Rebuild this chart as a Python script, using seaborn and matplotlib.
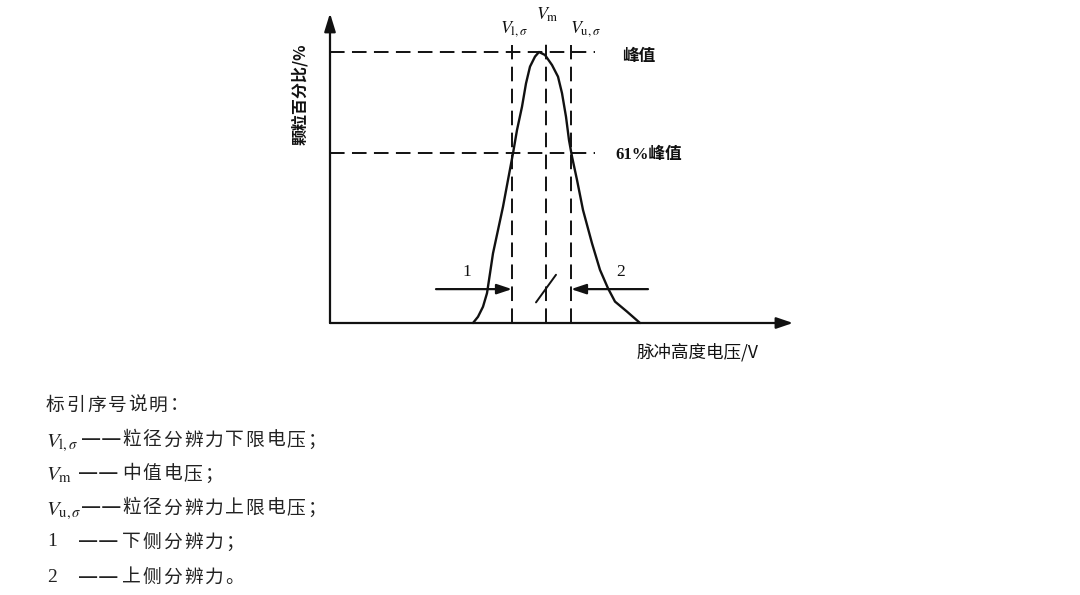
import matplotlib
matplotlib.use("Agg")
import matplotlib.pyplot as plt
import seaborn as sns
import pandas as pd

# ---------------- data ----------------
voltage = [14.3, 14.8, 15.3, 15.7, 16.0, 16.3, 16.8, 17.3, 17.8, 18.3, 18.7, 19.2, 19.6, 20.0, 20.5, 20.9,
           21.5, 22.2, 22.8, 23.2, 23.6, 23.9, 24.2, 24.7, 25.3, 26.2, 27.0, 27.8, 28.5, 29.7, 31.0]
percent = [0.0, 2.3, 6.0, 11.0, 18.3, 25.7, 34.3, 42.9, 52.8, 62.6, 71.2, 79.8, 88.4, 94.6, 98.3, 100.0,
           98.9, 95.2, 90.9, 84.8, 76.1, 67.5, 61.4, 52.8, 41.7, 29.4, 19.6, 12.8, 7.9, 4.2, 0.0]

level_names = ["峰值", "61%峰值"]
level_values = [100.0, 62.7]
level_line_end = 26.5

v_names = [r"$V_{\mathrm{l},\sigma}$", r"$V_{\mathrm{m}}$", r"$V_{\mathrm{u},\sigma}$"]
v_values = [18.2, 21.6, 24.1]
v_tops = [102.6, 105.2, 102.6]

resolution_y = 12.5
resolution_starts = [10.6, 31.8]
resolution_ends = [18.2, 24.1]
slash_x = [20.6, 22.6]
slash_y = [7.6, 17.8]

x_axis_end = 46.3
y_axis_end = 114.3

x_label = "脉冲高度电压/V"
y_label = "颗粒百分比/%"

legend_title = "标引序号说明："
legend_keys = [r"$V_{\mathrm{l},\sigma}$", r"$V_{\mathrm{m}}$", r"$V_{\mathrm{u},\sigma}$", "1", "2"]
legend_texts = ["粒径分辨力下限电压；", "中值电压；", "粒径分辨力上限电压；",
                "下侧分辨力；", "上侧分辨力。"]
legend_dash = "——"

# ---------------- figure ----------------
sns.set_theme(style="white")
plt.rcParams["font.family"] = ["Noto Sans CJK SC", "DejaVu Sans"]
plt.rcParams["mathtext.fontset"] = "stix"

W, H = 1080, 595
fig = plt.figure(figsize=(W / 100, H / 100), dpi=100)
ax = fig.add_axes([0, 0, 1, 1])
XLIM = (-33.0, (W - 330) / 10)
YLIM = ((323 - H) / 2.71, 323 / 2.71)


def fx(px):
    return px / W


def fy(py):
    return 1 - py / H


ink = "#111111"
grey = "#222222"

# dashed reference lines
dash = (0, (7.5, 3.8))
for lv in level_values:
    ax.plot([0, level_line_end], [lv, lv], color=ink, lw=1.4, linestyle=dash)
for v, top in zip(v_values, v_tops):
    ax.plot([v, v], [0, top], color=ink, lw=1.4, linestyle=dash)

# distribution curve
df = pd.DataFrame({"voltage": voltage, "percent": percent})
sns.lineplot(data=df, x="voltage", y="percent", sort=False, color=ink, lw=1.7, ax=ax, legend=False)
ax.set_xlim(*XLIM)
ax.set_ylim(*YLIM)
ax.axis("off")

# axes with arrows
ax.annotate("", xy=(x_axis_end, 0), xytext=(0, 0),
            arrowprops=dict(arrowstyle="-|>,head_length=0.5,head_width=0.17", mutation_scale=20,
                            lw=1.6, color=ink, shrinkA=0, shrinkB=0))
ax.annotate("", xy=(0, y_axis_end), xytext=(0, 0),
            arrowprops=dict(arrowstyle="-|>,head_length=0.55,head_width=0.17", mutation_scale=20,
                            lw=1.6, color=ink, shrinkA=0, shrinkB=0))

# resolution arrows
for s, e in zip(resolution_starts, resolution_ends):
    ax.annotate("", xy=(e, resolution_y), xytext=(s, resolution_y),
                arrowprops=dict(arrowstyle="-|>,head_length=0.45,head_width=0.15", mutation_scale=20,
                                lw=1.6, color=ink, shrinkA=0, shrinkB=0))
ax.plot(slash_x, slash_y, color=ink, lw=1.4)

serif = ["Liberation Serif", "Noto Sans CJK SC"]
fig.text(fx(462), fy(272), "1", fontsize=12.5, family=serif, ha="left", va="center", color=ink)
fig.text(fx(616), fy(272), "2", fontsize=12.5, family=serif, ha="left", va="center", color=ink)

# level labels
fig.text(fx(622), fy(56), level_names[0], fontsize=12, weight="bold", ha="left", va="center", color=ink)
fig.text(fx(615), fy(155), level_names[1], fontsize=12, weight="bold", family=serif,
         ha="left", va="center", color=ink)

# V labels above the lines
v_label_pos = [(500, 33), (536, 20), (570, 33)]
for name, (px, py) in zip(v_names, v_label_pos):
    fig.text(fx(px), fy(py), name, fontsize=13, ha="left", va="baseline", color=ink)

# axis labels
fig.text(fx(637), fy(352), x_label, fontsize=12.6, ha="left", va="center", color=ink)
fig.text(fx(300), fy(94), y_label, fontsize=11.5, weight="bold", rotation=90,
         ha="center", va="center", color=ink)


# legend block (wide character spacing as in the reference)
def spaced(x0, yc, s, adv=20.6, size=13.5):
    for i, ch in enumerate(s):
        fig.text(fx(x0 + i * adv), fy(yc), ch, fontsize=size, ha="left", va="center", color=grey)


spaced(46, 405, legend_title)
key_base = [447, 480, 515, 548, 583]
text_centre = [440, 474, 508, 542, 577]
dash_x = [81, 78, 81, 78, 78]
for key, txt, kb, tc, dx in zip(legend_keys, legend_texts, key_base, text_centre, dash_x):
    if key.startswith("$"):
        fig.text(fx(46), fy(kb), key, fontsize=15, ha="left", va="baseline", color=grey)
    else:
        fig.text(fx(47), fy(tc), key, fontsize=14, family=serif, ha="left", va="center", color=grey)
    fig.text(fx(dx), fy(tc), legend_dash, fontsize=16.3, ha="left", va="center", color=grey)
    spaced(122, tc, txt)

fig.savefig("out.png", dpi=100)
